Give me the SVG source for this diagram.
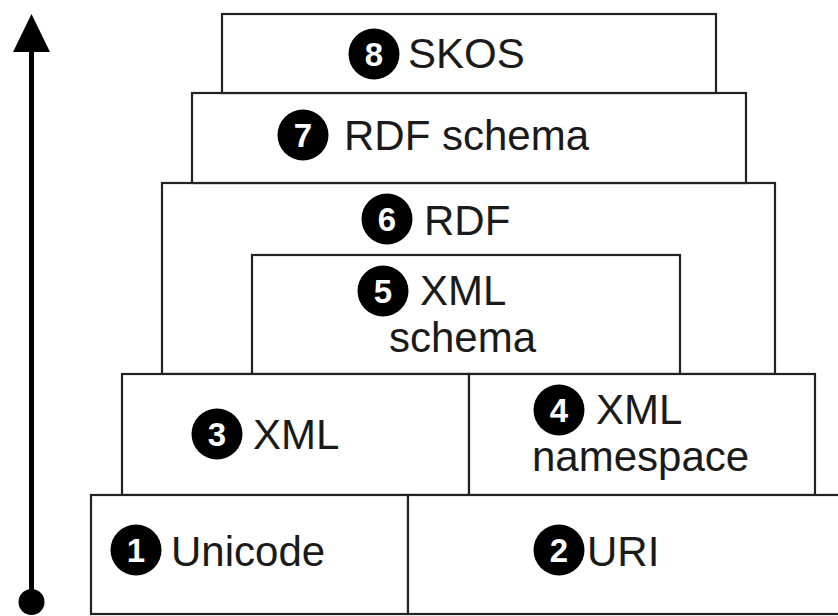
<svg xmlns="http://www.w3.org/2000/svg" width="838" height="616" viewBox="0 0 838 616">
<defs>
<style>
.box{fill:#fff;stroke:#222;stroke-width:2.2}
.lbl{font-family:"Liberation Sans",Arial,sans-serif;font-size:42px;fill:#1a1a1a}
.num{fill:#000}
.dig{font-family:"Liberation Sans",Arial,sans-serif;font-size:33px;font-weight:bold;fill:#fff;text-anchor:middle}
</style>
</defs>
<rect width="838" height="616" fill="#fff"/>
<g id="rdf">
<rect class="box" x="162" y="183" width="613" height="191"/>
<circle class="num" cx="387" cy="219" r="25.5"/>
<text class="dig" x="387" y="231">6</text>
<text class="lbl" x="424" y="235">RDF</text>
</g>
<g id="xml-schema">
<rect class="box" x="252" y="255" width="428" height="119"/>
<circle class="num" cx="383" cy="291" r="25.5"/>
<text class="dig" x="383" y="303">5</text>
<text class="lbl" x="420" y="305">XML</text>
<text class="lbl" x="389" y="352">schema</text>
</g>
<g id="rdf-schema">
<rect class="box" x="192" y="93" width="554" height="90"/>
<circle class="num" cx="303" cy="135" r="25.5"/>
<text class="dig" x="303" y="147">7</text>
<text class="lbl" x="344" y="150">RDF schema</text>
</g>
<g id="skos">
<rect class="box" x="222" y="14" width="494" height="79"/>
<circle class="num" cx="374" cy="54" r="25.5"/>
<text class="dig" x="374" y="66">8</text>
<text class="lbl" x="408" y="68">SKOS</text>
</g>
<g id="xml">
<rect class="box" x="122" y="374" width="347" height="121"/>
<circle class="num" cx="217" cy="434" r="25.5"/>
<text class="dig" x="217" y="446">3</text>
<text class="lbl" x="253" y="449">XML</text>
</g>
<g id="xml-namespace">
<rect class="box" x="469" y="374" width="346" height="121"/>
<circle class="num" cx="559" cy="410" r="25.5"/>
<text class="dig" x="559" y="422">4</text>
<text class="lbl" x="596" y="424">XML</text>
<text class="lbl" x="532" y="471">namespace</text>
</g>
<g id="unicode">
<rect class="box" x="91" y="495" width="317" height="119"/>
<circle class="num" cx="136" cy="550" r="25.5"/>
<text class="dig" x="136" y="562">1</text>
<text class="lbl" x="171" y="566">Unicode</text>
</g>
<g id="uri">
<rect class="box" x="408" y="495" width="440" height="119"/>
<circle class="num" cx="559" cy="550" r="25.5"/>
<text class="dig" x="559" y="562">2</text>
<text class="lbl" x="587" y="566">URI</text>
</g>
<g id="connectors">
<line x1="31.5" y1="602" x2="31.5" y2="48" stroke="#000" stroke-width="5"/>
<polygon points="31.5,14 13,52 50,52" fill="#000"/>
<circle cx="31.5" cy="602" r="13" fill="#000"/>
</g>
</svg>
